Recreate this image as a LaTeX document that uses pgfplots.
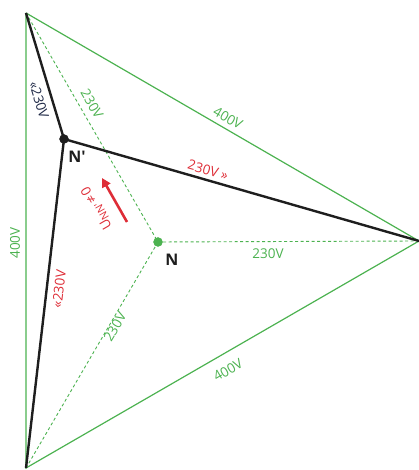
\documentclass[border=0pt]{standalone}
\usepackage{pgfplots}
\pgfplotsset{compat=1.18}
\usepackage{fontspec}
\setmainfont{Open Sans}
\usetikzlibrary{arrows.meta}
\definecolor{gr}{RGB}{76,178,80}
\definecolor{rd}{RGB}{222,45,55}
\definecolor{nv}{RGB}{30,40,70}
\definecolor{bk}{RGB}{30,30,30}
\begin{document}
\begin{tikzpicture}
\begin{axis}[
  scale only axis, width=419pt, height=470pt,
  xmin=0, xmax=419, ymin=0, ymax=470,
  hide axis, clip=false,
  font=\fontsize{13.5}{16}\selectfont,
]
\coordinate (sw) at (axis cs:0,0);
\coordinate (ne) at (axis cs:419,470);
% outer triangle (line voltages)
\addplot[gr, line width=1.2pt, mark=none] coordinates {(26,457) (26,2) (419,229) (26,457)};
% star to N (dashed)
\addplot[gr, line width=0.9pt, dash pattern=on 3pt off 2.5pt, mark=none] coordinates {(26,457) (158,228)};
\addplot[gr, line width=0.9pt, dash pattern=on 3pt off 2.5pt, mark=none] coordinates {(26,2) (158,228)};
\addplot[gr, line width=0.9pt, dash pattern=on 3pt off 2.5pt, mark=none] coordinates {(419,229) (158,228)};
% star to N' (black)
\addplot[bk, line width=2.4pt, mark=none] coordinates {(26,457) (64,331)};
\addplot[bk, line width=2.4pt, mark=none] coordinates {(419,229) (64,331)};
\addplot[bk, line width=2.4pt, mark=none] coordinates {(26,2) (64,331)};
% red arrow
\addplot[rd, line width=2.6pt, mark=none, -{Triangle[length=9pt,width=9pt]}] coordinates {(127,248) (102,292)};
% dots
\addplot[only marks, mark=*, mark size=4.5pt, bk] coordinates {(64,331)};
\addplot[only marks, mark=*, mark size=4.5pt, gr] coordinates {(158,228)};
% labels
\node[gr, rotate=90] at (axis cs:15,227) {400V};
\node[gr, rotate=-30] at (axis cs:228,352) {400V};
\node[gr, rotate=30] at (axis cs:228,100) {400V};
\node[gr, rotate=-60] at (axis cs:92,366) {230V};
\node[gr] at (axis cs:268,216) {230V};
\node[gr, rotate=60] at (axis cs:115,143) {230V};
\node[nv, rotate=-73] at (axis cs:39,370) {«230V};
\node[rd, rotate=-16] at (axis cs:208,300) {230V »};
\node[rd, rotate=83] at (axis cs:59,181) {«230V};
\node[rd, rotate=120, inner sep=0pt] at (axis cs:97,262) {U\raisebox{-0.35ex}{\fontsize{10.5}{12}\selectfont NN\textquotesingle}\,≠\,0};
\node[bk, font=\fontsize{16}{18}\selectfont\bfseries] at (axis cs:77,313) {N\textquotesingle};
\node[bk, font=\fontsize{16}{18}\selectfont\bfseries] at (axis cs:172,210) {N};
\end{axis}
\pgfresetboundingbox
\path (sw) rectangle (ne);
\end{tikzpicture}
\end{document}
